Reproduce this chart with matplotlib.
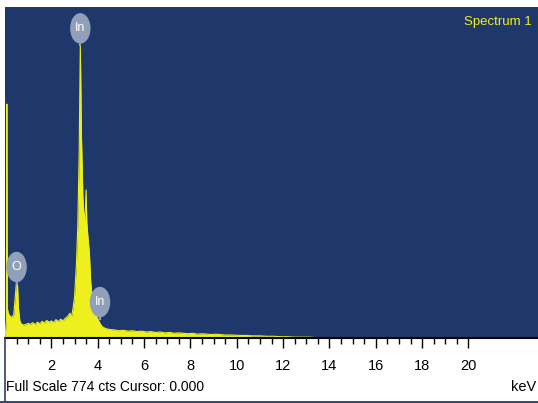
#EDS spectrum of indium oxide sample
import numpy as np
import matplotlib
matplotlib.use("Agg")
from matplotlib import pyplot as plt
from matplotlib.patches import Ellipse
from matplotlib.lines import Line2D

plt.rcParams['font.family'] = ['Liberation Sans Narrow', 'Liberation Sans', 'DejaVu Sans']

#spectrum (keV, counts)
energy = [0.00, 0.06, 0.08, 0.10, 0.14, 0.20, 0.30, 0.38, 0.44, 0.50, 0.54, 0.58, 0.64,
          0.70, 0.80, 0.90, 1.00, 1.10, 1.20, 1.30, 1.40, 1.50, 1.60, 1.70, 1.80,
          1.90, 2.00, 2.10, 2.20, 2.30, 2.40, 2.50, 2.60, 2.70, 2.80, 2.86, 2.92,
          3.00, 3.08, 3.14, 3.20, 3.25, 3.30, 3.36, 3.42, 3.47, 3.50, 3.53, 3.58,
          3.64, 3.70, 3.76, 3.82, 3.90, 4.00, 4.10, 4.20, 4.35, 4.50, 4.70, 4.90,
          5.10, 5.30, 5.50, 5.70, 5.90, 6.10, 6.30, 6.50, 6.70, 6.90, 7.10, 7.30,
          7.50, 7.70, 7.90, 8.10, 8.30, 8.50, 8.70, 8.90, 9.10, 9.30, 9.50, 9.80,
          10.10, 10.40, 10.70, 11.00, 11.30, 11.60, 11.90, 12.20, 12.50, 12.80,
          13.10, 13.40, 13.70, 14.00, 23.0]
counts = [0, 40, 547, 70, 58, 52, 48, 55, 95, 135, 125, 70, 40,
          33, 30, 32, 34, 32, 36, 31, 37, 33, 39, 35, 41,
          37, 40, 36, 43, 38, 44, 40, 46, 50, 58, 47, 64,
          95, 170, 260, 430, 685, 470, 330, 270, 300, 346, 270, 235,
          200, 130, 95, 75, 58, 45, 34, 26, 22, 20, 19, 17,
          18, 16, 17, 15, 16, 14, 15, 13, 14, 12, 13, 11,
          12, 11, 10, 11, 9, 10, 9, 8, 9, 8, 7, 7,
          6, 6, 5, 5, 4, 4, 3, 3, 2, 2,
          2, 1, 1, 0, 0]

#peak labels
peak_names = ['In', 'O', 'In']
peak_energy = [3.25, 0.50, 4.10]
peak_label_y = [724, 166, 84]

major_ticks = [2, 4, 6, 8, 10, 12, 14, 16, 18, 20]
minor_ticks = [x / 2 for x in range(1, 41) if x % 4 != 0]

blue = '#1f386c'
yellow = '#eef01e'

fig = plt.figure(figsize=(5.38, 4.03), dpi=100)
ax = fig.add_axes([5 / 538, 65 / 403, 533 / 538, 331 / 403])
ax.set_facecolor(blue)
ax.fill_between(energy, counts, 0, color=yellow, lw=0)
ax.plot(energy, counts, color=yellow, lw=0.8)
ax.set_xlim(0, 23.0)
ax.set_ylim(0, 774)

for name, e, ly in zip(peak_names, peak_energy, peak_label_y):
    ax.plot([e, e], [ly - 40, ly - 20], color='#8fa0b8', lw=1.5)
    ax.add_patch(Ellipse((e, ly), 0.82, 68, color='#8fa0b8', zorder=5))
    ax.text(e, ly, name, color='white', fontsize=9, ha='center', va='center', zorder=6)

ax.text(0.988, 0.955, 'Spectrum 1', transform=ax.transAxes, color=yellow,
        fontsize=9.5, ha='right', va='center')

ax.set_yticks([])
ax.set_xticks(major_ticks)
ax.set_xticklabels([str(t) for t in major_ticks], fontsize=10.5)
ax.set_xticks(minor_ticks, minor=True)
ax.tick_params(axis='x', which='major', length=7, width=1, pad=8, direction='out')
ax.tick_params(axis='x', which='minor', length=4, width=1, direction='out')
for side in ['left', 'top', 'right']:
    ax.spines[side].set_visible(False)
ax.spines['bottom'].set_linewidth(1.5)

#frame of the bottom panel
fig.add_artist(Line2D([5 / 538, 5 / 538], [0, 65 / 403], color='#2b3f70', lw=1.2))
fig.add_artist(Line2D([0, 1], [1.5 / 403, 1.5 / 403], color='#2b3f70', lw=2))

fig.text(6 / 538, 1 - 387 / 403, 'Full Scale 774 cts Cursor: 0.000', fontsize=10, va='center')
fig.text(536 / 538, 1 - 387 / 403, 'keV', fontsize=10.5, va='center', ha='right')

plt.savefig('out.png', dpi=100)
